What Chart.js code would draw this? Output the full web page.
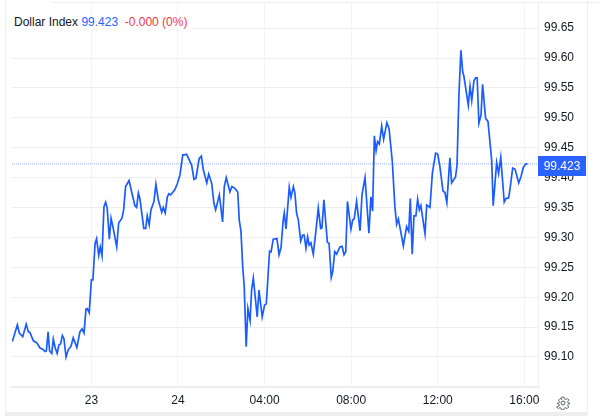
<!DOCTYPE html>
<html><head><meta charset="utf-8">
<style>
html,body{margin:0;padding:0;background:#fff;width:600px;height:416px;overflow:hidden}
#wrap{position:relative;width:600px;height:416px}
canvas{position:absolute;left:0;top:0}
#head{position:absolute;left:14px;top:15px;font:12px "Liberation Sans",Arial,sans-serif;color:#131722;white-space:pre;background:#fff;padding-right:5px;line-height:14px}
#head .b{color:#2962ff}#head .r{color:#f23645}
.f{position:absolute;background:#eeeeee}
#gear{position:absolute;left:556px;top:396px}
</style></head><body><div id="wrap">
<canvas id="c" width="600" height="416"></canvas>
<div class="f" style="left:5px;top:0;width:1px;height:412px"></div>
<div class="f" style="left:52px;top:2px;width:548px;height:1px"></div>
<div class="f" style="left:5px;top:412px;width:582px;height:4px"></div>
<div class="f" style="left:587px;top:0;width:1px;height:416px"></div>
<div id="head">Dollar Index <span class="b">99.423</span>  <span class="r">-0.000 (0%)</span></div>
<svg id="gear" width="14" height="14" viewBox="0 0 24 24" fill="none" stroke="#5d606b" stroke-width="1.7"><circle cx="12" cy="12" r="3.4"/><path d="M10 2h4l.6 3 2.3 1 2.6-1.7 2.8 2.8L20 9.7l1 2.3 3 .6v0l-3 1.4-1 2.3 1.7 2.6-2.8 2.8-2.6-1.7-2.3 1-.6 3h-4l-.6-3-2.3-1-2.6 1.7-2.8-2.8L6 16.3l-1-2.3-3-1.4v0l3-.6 1-2.3-1.7-2.6 2.8-2.8L9.7 6l-.3-1z"/></svg>
</div>
<script src="https://cdn.jsdelivr.net/npm/chart.js@4"></script>
<script>
const hours=[-7.65,-7.42,-7.33,-7.17,-7.01,-6.91,-6.84,-6.68,-6.53,-6.37,-6.25,-6.14,-6.08,-6.00,-5.93,-5.83,-5.76,-5.67,-5.58,-5.50,-5.42,-5.34,-5.27,-5.17,-5.07,-4.94,-4.84,-4.67,-4.53,-4.43,-4.34,-4.25,-4.19,-4.10,-4.00,-3.93,-3.83,-3.76,-3.66,-3.59,-3.51,-3.42,-3.34,-3.27,-3.17,-3.09,-2.99,-2.83,-2.74,-2.59,-2.51,-2.42,-2.26,-2.14,-1.99,-1.91,-1.83,-1.76,-1.58,-1.49,-1.42,-1.33,-1.25,-1.11,-1.02,-0.91,-0.75,-0.68,-0.59,-0.49,-0.42,-0.34,-0.14,-0.03,0.09,0.22,0.29,0.40,0.63,0.74,0.83,0.98,1.08,1.17,1.33,1.42,1.56,1.66,1.74,1.91,2.06,2.14,2.23,2.40,2.49,2.63,2.76,2.83,2.91,2.99,3.06,3.15,3.23,3.33,3.40,3.48,3.66,3.74,3.89,4.00,4.08,4.23,4.30,4.40,4.57,4.67,4.76,4.86,4.91,4.99,5.14,5.22,5.33,5.40,5.48,5.56,5.67,5.76,5.83,5.91,5.99,6.06,6.14,6.25,6.36,6.48,6.59,6.65,6.74,6.90,6.98,7.08,7.15,7.24,7.33,7.48,7.58,7.67,7.75,7.83,7.99,8.07,8.14,8.25,8.41,8.50,8.64,8.82,8.91,8.99,9.07,9.15,9.22,9.30,9.41,9.50,9.65,9.75,9.90,10.02,10.10,10.18,10.41,10.56,10.66,10.73,10.82,10.90,10.99,11.07,11.15,11.22,11.41,11.49,11.64,11.75,11.90,12.00,12.10,12.24,12.33,12.42,12.56,12.64,12.82,12.89,12.98,13.07,13.15,13.21,13.41,13.49,13.57,13.67,13.75,13.82,13.90,14.00,14.07,14.21,14.32,14.49,14.56,14.72,14.81,14.91,15.07,15.15,15.27,15.33,15.46,15.57,15.74,15.84,15.95,16.07,16.15];
const prices=[99.126,99.154,99.140,99.134,99.155,99.142,99.141,99.127,99.124,99.115,99.113,99.109,99.110,99.142,99.110,99.106,99.130,99.115,99.106,99.120,99.122,99.136,99.131,99.100,99.112,99.118,99.132,99.116,99.142,99.147,99.140,99.180,99.181,99.174,99.229,99.229,99.290,99.298,99.270,99.284,99.269,99.351,99.359,99.349,99.297,99.332,99.315,99.284,99.324,99.332,99.346,99.385,99.395,99.376,99.353,99.350,99.374,99.365,99.315,99.315,99.336,99.321,99.346,99.360,99.389,99.363,99.342,99.350,99.341,99.368,99.373,99.371,99.380,99.390,99.404,99.438,99.438,99.439,99.421,99.397,99.399,99.432,99.436,99.413,99.391,99.406,99.390,99.357,99.346,99.371,99.326,99.385,99.400,99.376,99.385,99.382,99.376,99.329,99.310,99.251,99.218,99.117,99.181,99.161,99.212,99.232,99.167,99.212,99.167,99.187,99.189,99.277,99.276,99.297,99.298,99.271,99.283,99.329,99.341,99.314,99.384,99.367,99.385,99.374,99.340,99.329,99.294,99.304,99.304,99.282,99.301,99.287,99.291,99.272,99.307,99.349,99.315,99.316,99.363,99.292,99.290,99.233,99.243,99.276,99.272,99.284,99.285,99.271,99.276,99.360,99.314,99.329,99.331,99.360,99.311,99.371,99.400,99.307,99.368,99.344,99.470,99.445,99.460,99.456,99.486,99.464,99.492,99.482,99.427,99.351,99.322,99.331,99.286,99.318,99.310,99.365,99.272,99.336,99.336,99.364,99.346,99.353,99.306,99.354,99.350,99.407,99.441,99.439,99.418,99.378,99.375,99.358,99.433,99.391,99.401,99.421,99.541,99.613,99.577,99.569,99.521,99.553,99.529,99.562,99.567,99.567,99.491,99.505,99.556,99.499,99.494,99.429,99.353,99.425,99.407,99.434,99.359,99.365,99.366,99.379,99.416,99.414,99.391,99.401,99.417,99.423,99.423];
const xTickHours=[-4,0,4,8,12,16];
const xTickLabels=["23","24","04:00","08:00","12:00","16:00"];
const yTicks=[99.10,99.15,99.20,99.25,99.30,99.35,99.40,99.45,99.50,99.55,99.60,99.65];
const lastPrice=99.423;
const FONT={family:'"Liberation Sans",Arial,sans-serif',size:12};
const badge={id:'badge',afterDraw(ch){
  const c=ch.ctx,y=ch.scales.y.getPixelForValue(lastPrice),l=ch.chartArea.right;
  c.save();c.fillStyle='#2962ff';c.fillRect(l,Math.round(y)-8,48,20);
  c.fillStyle='#fff';c.font='12px "Liberation Sans",Arial,sans-serif';c.textAlign='center';c.textBaseline='middle';
  c.fillText(lastPrice.toFixed(3),l+24,Math.round(y)+2.5);c.restore();}};
new Chart(document.getElementById('c'),{
 type:'line',
 data:{datasets:[
  {data:hours.map((h,i)=>({x:h,y:prices[i]})),borderColor:'#1a5cff',borderWidth:1.7,pointRadius:0,tension:0,order:1},
  {data:[{x:-7.667,y:lastPrice},{x:16.63,y:lastPrice}],borderColor:'#9db8ff',borderWidth:1,borderDash:[1,1],pointRadius:0,order:2}
 ]},
 plugins:[badge],
 options:{responsive:false,animation:false,devicePixelRatio:1,
  layout:{padding:{left:12,top:3,right:0,bottom:0}},
  plugins:{legend:{display:false},tooltip:{enabled:false},title:{display:false}},
  scales:{
   x:{type:'linear',min:-7.667,max:16.63,
    afterBuildTicks(a){a.ticks=xTickHours.map(v=>({value:v}));},
    afterFit(a){a.height=29;a.paddingLeft=0;a.paddingRight=0;},
    grid:{color:'#f2f4f6',drawTicks:false,lineWidth:1},
    border:{color:'#eeeeee',width:2},
    ticks:{color:'#131722',font:FONT,padding:6,maxRotation:0,autoSkip:false,
      callback(v){const i=xTickHours.indexOf(v);return i<0?'':xTickLabels[i];}}},
   y:{position:'right',min:99.0498,max:99.692,
    afterBuildTicks(a){a.ticks=yTicks.map(v=>({value:v}));},
    afterFit(a){a.width=62;a.paddingTop=0;a.paddingBottom=0;},
    grid:{color:'#eeeeee',drawTicks:false,lineWidth:1},
    border:{color:'#eeeeee',width:1},
    ticks:{color:'#131722',font:FONT,padding:6,autoSkip:false,
      callback(v){return Number(v).toFixed(2);}}}
  }}
});
</script></body></html>
